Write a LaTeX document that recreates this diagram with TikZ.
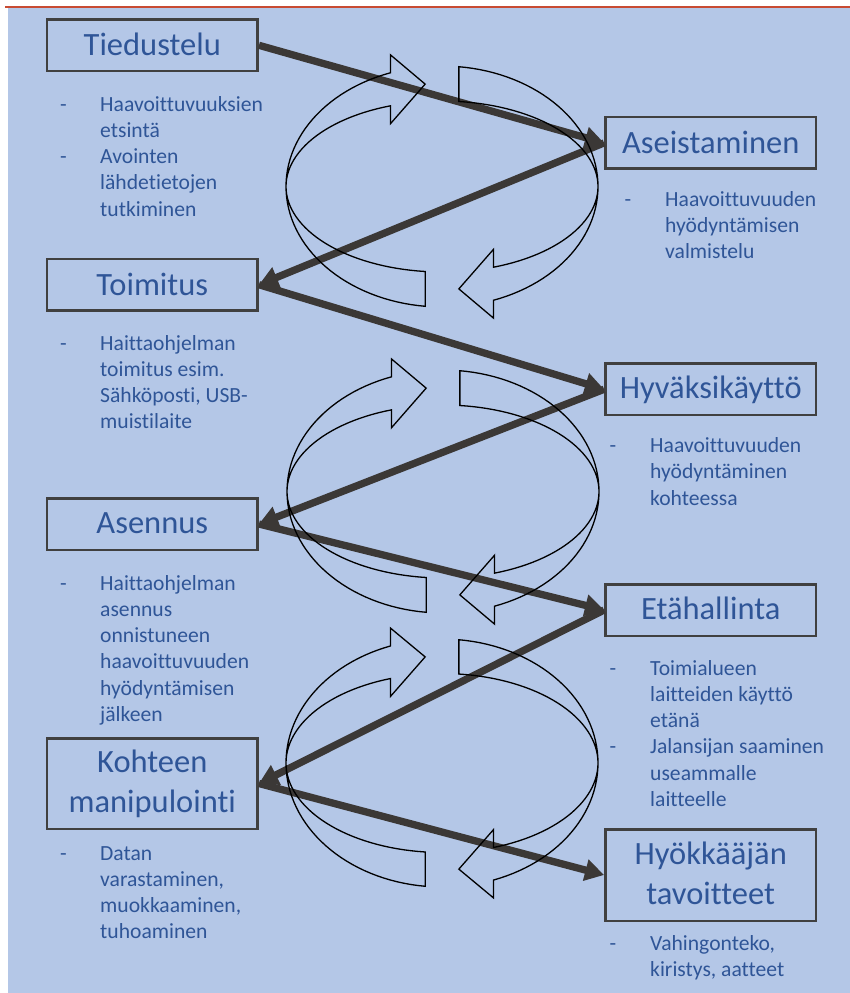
\documentclass[tikz,border=0pt]{standalone}
\usepackage{fontspec}
\setmainfont[Ligatures=CommonOff]{Carlito}
\usetikzlibrary{arrows.meta}
\definecolor{bgblue}{RGB}{180,199,231}
\definecolor{tblue}{RGB}{47,85,151}
\definecolor{boxgray}{RGB}{64,64,64}
\definecolor{arrgray}{RGB}{59,56,54}
\definecolor{redline}{RGB}{200,75,50}
\newcommand\blines[4]{%
  \foreach \btext [count=\bi] in {#4}{\node[btxt] (#1-\bi) at (#2,{#3+(\bi-1)*26.3}) {\btext};}}
\newcommand\carrow[5]{%
  \pgfmathsetmacro\cpb{#5+154.5}%
  \pgfmathsetmacro\cpt{#5+167.6}%
  \pgfmathsetmacro\cRm{(#3+#4)/2}%
  \draw[circ] plot[domain=#5:\cpb, samples=60] ({#1+156*cos(\x)},{#2+#3*sin(\x)})
    -- ({#1+156*cos(\cpb)},{#2+(#3+19)*sin(\cpb)})
    -- ({#1+156*cos(\cpt)},{#2+\cRm*sin(\cpt)})
    -- ({#1+156*cos(\cpb)},{#2+(#4-19)*sin(\cpb)})
    -- plot[domain=\cpb:#5, samples=60] ({#1+156*cos(\x)},{#2+#4*sin(\x)})
    -- cycle;}
\begin{document}
\begin{tikzpicture}[x=1pt,y=-1pt,
  box/.style={draw=boxgray, line width=2.5pt, minimum width=210.8pt, minimum height=51.5pt, inner sep=0pt},
  ttl/.style={anchor=base, inner sep=0pt, text=tblue, font=\fontsize{32.5}{39}\selectfont},
  btxt/.style={anchor=base west, inner sep=0pt, text=tblue, font=\fontsize{21.6}{26}\selectfont},
  conn/.style={draw=arrgray, line width=7.3pt, -{Triangle[length=19pt,width=21pt]}},
  circ/.style={draw=black, line width=1.3pt, line join=miter}]
\useasboundingbox (0,0) rectangle (850,993);
\fill[white] (0,0) rectangle (850,993);
\fill[bgblue] (7.5,8) rectangle (850,993);
\draw[draw=redline, line width=1.6pt] (5,7.2) -- (850,7.2);

% boxes
\node[box] (tied) at (152.3,45.3) {};
\node[box] (ase) at (710.7,142.9) {};
\node[box] (toim) at (152.3,284.7) {};
\node[box] (hyv) at (710.7,389.3) {};
\node[box] (asen) at (152.3,524) {};
\node[box] (eta) at (710.7,610) {};
\node[box, minimum height=90.5pt] (koh) at (152.3,783.5) {};
\node[box, minimum height=91.5pt] (hyo) at (710.7,875) {};

% titles
\node[ttl] (tied-t) at (152.3,55) {Tiedustelu};
\node[ttl] (ase-t) at (710.7,153.3) {Aseistaminen};
\node[ttl] (toim-t) at (152.3,295) {Toimitus};
\node[ttl] (hyv-t) at (710.7,398) {Hyväksikäyttö};
\node[ttl] (asen-t) at (152.3,533.5) {Asennus};
\node[ttl] (eta-t) at (710.7,619.3) {Etähallinta};
\node[ttl] (koh-t1) at (152.3,772.7) {Kohteen};
\node[ttl] (koh-t2) at (152.3,812) {manipulointi};
\node[ttl] (hyo-t1) at (710.7,864.3) {Hyökkääjän};
\node[ttl] (hyo-t2) at (710.7,904) {tavoitteet};

% dashes
\node[btxt] (d1) at (60,111) {-};
\node[btxt] (d2) at (60,163.6) {-};
\node[btxt] (d3) at (60,350) {-};
\node[btxt] (d4) at (60,590) {-};
\node[btxt] (d5) at (60,860) {-};
\node[btxt] (d6) at (624.3,206) {-};
\node[btxt] (d7) at (609.3,452.5) {-};
\node[btxt] (d8) at (609.3,675) {-};
\node[btxt] (d9) at (609.3,753.9) {-};
\node[btxt] (d10) at (609.3,950) {-};

% bullet texts
\blines{tb1}{100}{111}{Haavoittuvuuksien, etsintä}
\blines{tb2}{100}{163.6}{Avointen, lähdetietojen, tutkiminen}
\blines{ob}{100}{350}{Haittaohjelman, toimitus esim., {Sähköposti, USB-}, muistilaite}
\blines{sb}{100}{590}{Haittaohjelman, asennus, onnistuneen, haavoittuvuuden, hyödyntämisen, jälkeen}
\blines{kb}{100}{860}{Datan, {varastaminen,}, {muokkaaminen,}, tuhoaminen}
\blines{ab}{665}{206}{Haavoittuvuuden, hyödyntämisen, valmistelu}
\blines{hb}{650}{452.5}{Haavoittuvuuden, hyödyntäminen, kohteessa}
\blines{eb1}{650}{675}{Toimialueen, laitteiden käyttö, etänä}
\blines{eb2}{650}{753.9}{Jalansijan saaminen, useammalle, laitteelle}
\blines{yb}{650}{950}{{Vahingonteko,}, {kiristys, aatteet}}

% thick connectors
\draw[conn] (tied.east) -- (ase.west);
\draw[conn] (ase.west) -- (toim.east);
\draw[conn] (toim.east) -- (hyv.west);
\draw[conn] (hyv.west) -- (asen.east);
\draw[conn] (asen.east) -- (eta.west);
\draw[conn] (eta.west) -- (koh.east);
\draw[conn] (koh.east) -- (hyo.west);

% circular arrows
\carrow{442}{186.5}{120.5}{85.5}{96.2}
\carrow{442}{186.5}{120.5}{85.5}{276.2}
\carrow{443}{491.5}{121.5}{86.5}{96.2}
\carrow{443}{491.5}{121.5}{86.5}{276.2}
\carrow{442}{763}{124}{89.5}{96.2}
\carrow{442}{763}{124}{89.5}{276.2}
\end{tikzpicture}
\end{document}
